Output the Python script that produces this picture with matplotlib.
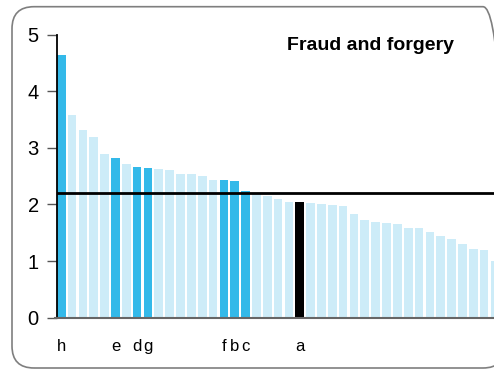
import matplotlib
matplotlib.use("Agg")
import matplotlib.pyplot as plt
from matplotlib.patches import FancyBboxPatch

plt.rcParams['font.family'] = ['Liberation Sans', 'DejaVu Sans']

# rates per region, sorted high to low
values = [4.64, 3.58, 3.32, 3.20, 2.89, 2.82, 2.72, 2.66, 2.65, 2.63,
          2.61, 2.54, 2.53, 2.51, 2.43, 2.43, 2.42, 2.24, 2.19, 2.15,
          2.10, 2.04, 2.04, 2.03, 2.01, 1.99, 1.97, 1.83, 1.73, 1.69,
          1.67, 1.66, 1.59, 1.59, 1.52, 1.44, 1.39, 1.30, 1.21, 1.20,
          1.01]
# labelled regions: letter -> bar index
labels = {'h': 0, 'e': 5, 'd': 7, 'g': 8, 'f': 15, 'b': 16, 'c': 17, 'a': 22}
highlight = 'a'
average = 2.20

light = '#cdecf8'
bright = '#33b9e9'

colors = [light] * len(values)
for name, idx in labels.items():
    colors[idx] = 'black' if name == highlight else bright

fig = plt.figure(figsize=(4.94, 3.70), dpi=100)

# rounded frame around the chart
frame = FancyBboxPatch((0.12, 0.02), 4.93, 3.613,
                       boxstyle="round,pad=0,rounding_size=0.22",
                       transform=fig.dpi_scale_trans, facecolor='none',
                       edgecolor='#7f7f7f', linewidth=1.2)
fig.patches.append(frame)

ax = fig.add_axes([0.1148, 0.1414, 0.9002, 0.7649])
x = list(range(len(values)))
ax.bar(x, values, width=0.8, color=colors, zorder=2)
ax.axhline(average, color='black', linewidth=2, zorder=3)

ax.set_ylim(0, 5)
ax.set_xlim(-0.42, 40.6)
ax.set_yticks([0, 1, 2, 3, 4, 5])
ax.tick_params(axis='y', length=7, width=1, color='#555555', pad=6,
               labelsize=14.5)

idx = sorted(labels.values())
names = [k for k, v in sorted(labels.items(), key=lambda t: t[1])]
ax.set_xticks(idx)
ax.set_xticklabels(names)
ax.tick_params(axis='x', length=0, pad=15, labelsize=12)

for side in ['top', 'right']:
    ax.spines[side].set_visible(False)
ax.spines['left'].set_color('black')
ax.spines['left'].set_linewidth(1.3)
ax.spines['bottom'].set_color('#666666')
ax.spines['bottom'].set_linewidth(1.5)
ax.spines['bottom'].set_bounds(-0.55, 40.6)
ax.spines['bottom'].set_zorder(4)

fig.text(0.749, 0.877, 'Fraud and forgery', fontsize=14, fontweight='bold',
         ha='center', va='center')

fig.savefig('out.png', dpi=100)
